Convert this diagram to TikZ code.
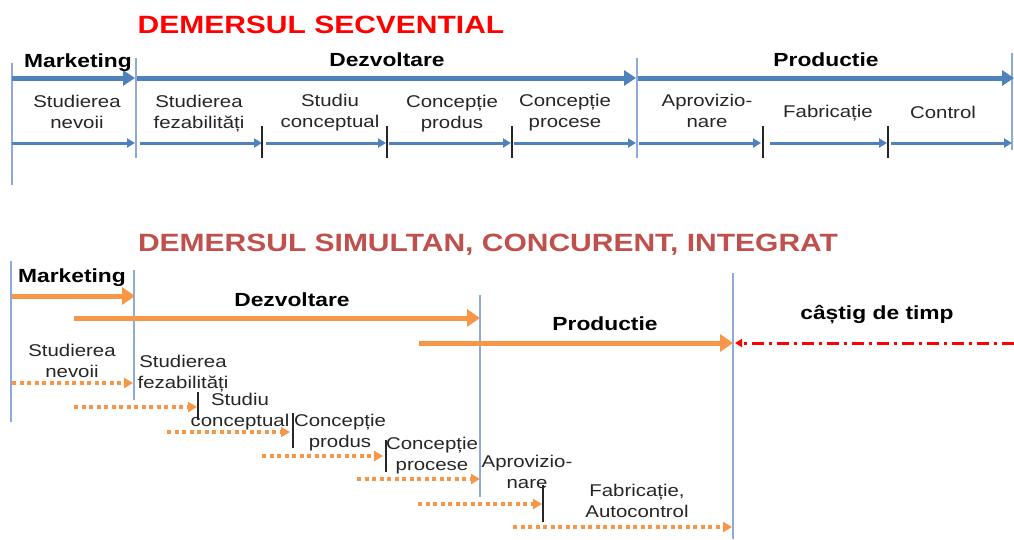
\documentclass[tikz,border=0pt]{standalone}
\usepackage{graphicx}
\usepackage{fontspec}
\setmainfont{Liberation Sans}
\usetikzlibrary{arrows.meta}

\definecolor{barblue}{HTML}{4F81BD}
\definecolor{gridblue}{HTML}{8EAADB}
\definecolor{barorange}{HTML}{F79646}
\definecolor{titlered}{HTML}{FF0000}
\definecolor{titlebrick}{HTML}{C0504D}
\definecolor{tickgray}{HTML}{262626}

% widened lettering, one line or two centred lines
\newcommand\wide[1]{\scalebox{1.2}[1]{#1}}
\newcommand\twoline[2]{\scalebox{1.2}[1]{\begin{tabular}{@{}c@{}}#1\\#2\end{tabular}}}

\tikzset{
  heading/.style={font=\fontsize{25}{30}\selectfont\bfseries, anchor=base, inner sep=0pt},
  phase/.style={font=\fontsize{19}{23}\selectfont\bfseries, anchor=base, inner sep=0pt},
  task/.style={font=\fontsize{17}{20.5}\selectfont, text=black!85, inner sep=0pt},
  guide/.style={gridblue, line width=2pt},
  bluebar/.style={barblue, line width=5pt, -{Triangle[length=12pt,width=15pt]}},
  bluestep/.style={barblue, line width=3pt, -{Triangle[length=8pt,width=9pt]}},
  orangebar/.style={barorange, line width=5pt, -{Triangle[length=13pt,width=17pt]}},
  orangestep/.style={barorange, line width=3.5pt, dash pattern=on 4pt off 3.5pt,
                     -{Triangle[length=9pt,width=10pt]}},
  gain/.style={red, line width=3pt, dash pattern=on 12pt off 5pt on 3pt off 5pt,
               -{Triangle[length=7pt,width=8pt]}},
  milestone/.style={tickgray, line width=1.8pt},
}

\begin{document}
\begin{tikzpicture}[x=1pt,y=-1pt]
\fill[white] (0,0) rectangle (1014,539);
\useasboundingbox (0,0) rectangle (1014,539);

% ---------- sequential approach ----------
\node[heading, text=titlered] (seqtitle) at (321,33) {\wide{DEMERSUL SECVENTIAL}};

\draw[guide] (12,63) -- (12,185);
\draw[guide] (136,58) -- (136,158);
\draw[guide] (637,58) -- (637,158);
\draw[guide] (1012,53) -- (1012,150);

\draw[bluebar] (12,78) -- (135,78);
\draw[bluebar] (137,78) -- (636,78);
\draw[bluebar] (638,78) -- (1014,78);

\node[phase] (seqmkt) at (78,67) {\wide{Marketing}};
\node[phase] (seqdev) at (387,66) {\wide{Dezvoltare}};
\node[phase] (seqprod) at (826,66) {\wide{Productie}};

\draw[bluestep] (12,143) -- (135,143);
\draw[bluestep] (140,143) -- (262,143);
\draw[bluestep] (266,143) -- (386,143);
\draw[bluestep] (389,143) -- (511,143);
\draw[bluestep] (514,143) -- (636,143);
\draw[bluestep] (639,143) -- (761,143);
\draw[bluestep] (770,143) -- (887,143);
\draw[bluestep] (891,143) -- (1012,143);

\foreach \x in {262,387,512,763,888}
  \draw[milestone] (\x,126) -- (\x,158);

\node[task] (s1) at (77,114) {\twoline{Studierea}{nevoii}};
\node[task] (s2) at (199,114) {\twoline{Studierea}{fezabilități}};
\node[task] (s3) at (330,113) {\twoline{Studiu}{conceptual}};
\node[task] (s4) at (452,114) {\twoline{Concepție}{produs}};
\node[task] (s5) at (565,113) {\twoline{Concepție}{procese}};
\node[task] (s6) at (707,113) {\twoline{Aprovizio-}{nare}};
\node[task] (s7) at (828,113) {\wide{\begin{tabular}{@{}c@{}}Fabricație\end{tabular}}};
\node[task] (s8) at (943,114) {\wide{\begin{tabular}{@{}c@{}}Control\end{tabular}}};

% ---------- simultaneous approach ----------
\node[heading, text=titlebrick] (simtitle) at (488,251) {\wide{DEMERSUL SIMULTAN, CONCURENT, INTEGRAT}};

\draw[guide] (11,261) -- (11,422);
\draw[guide] (134,270) -- (134,400);
\draw[guide] (480,295) -- (480,497);
\draw[guide] (733,273) -- (733,539);

\draw[orangebar] (12,296) -- (135,296);
\draw[orangebar] (74,318) -- (480,318);
\draw[orangebar] (419,343) -- (733,343);
\draw[gain] (1014,343) -- (735,343);

\node[phase] (simmkt) at (72,282) {\wide{Marketing}};
\node[phase] (simdev) at (292,306) {\wide{Dezvoltare}};
\node[phase] (simprod) at (605,330) {\wide{Productie}};
\node[phase] (gaintxt) at (877,319) {\wide{câștig de timp}};

\draw[orangestep] (12,383) -- (133,383);
\draw[orangestep] (74,407) -- (197,407);
\draw[orangestep] (167,432) -- (290,432);
\draw[orangestep] (262,456) -- (383,456);
\draw[orangestep] (357,479) -- (480,479);
\draw[orangestep] (418,504) -- (542,504);
\draw[orangestep] (513,527) -- (732,527);

\draw[milestone] (198,392) -- (198,420);
\draw[milestone] (293,413) -- (293,448);
\draw[milestone] (386,440) -- (386,472);
\draw[milestone] (543,485) -- (543,522);

\node[task] (c1) at (72,363) {\twoline{Studierea}{nevoii}};
\node[task] (c2) at (183,374) {\twoline{Studierea}{fezabilități}};
\node[task] (c3) at (240,412) {\twoline{Studiu}{conceptual}};
\node[task] (c4) at (340,433) {\twoline{Concepție}{produs}};
\node[task] (c5) at (432,456) {\twoline{Concepție}{procese}};
\node[task] (c6) at (527,474) {\twoline{Aprovizio-}{nare}};
\node[task] (c7) at (637,503) {\twoline{Fabricație,}{Autocontrol}};
\end{tikzpicture}
\end{document}
